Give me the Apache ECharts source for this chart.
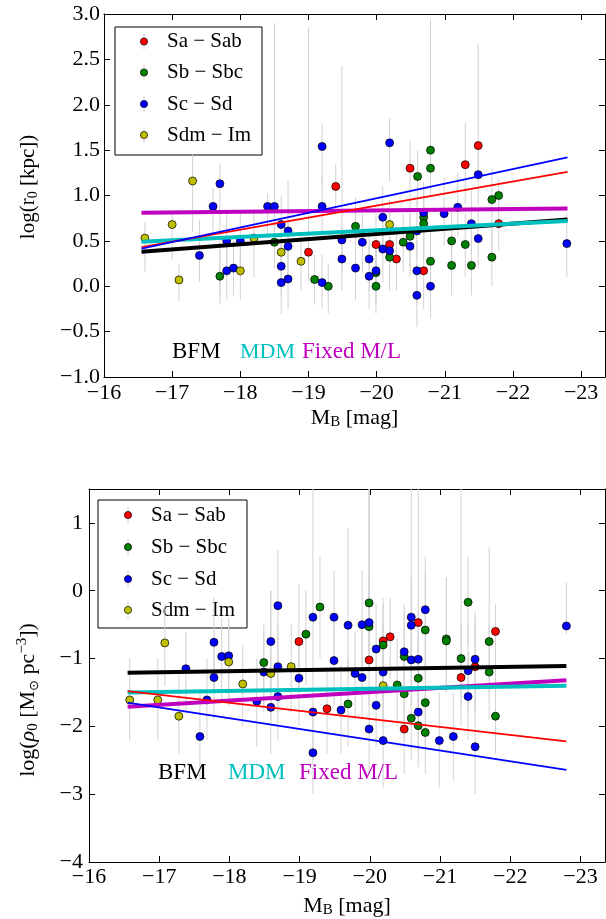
<!DOCTYPE html>
<html><head><meta charset="utf-8">
<script src="https://cdn.jsdelivr.net/npm/echarts@6/dist/echarts.min.js"></script>
<style>html,body{margin:0;padding:0;background:#fff}#c{width:606px;height:919px}</style>
</head><body><div id="c"></div>
<script>
// ---------- DATA ----------
const xTicks = [-16,-17,-18,-19,-20,-21,-22,-23];
const yTicksTop = [-1,-0.5,0,0.5,1,1.5,2,2.5,3];
const yTicksBot = [-4,-3,-2,-1,0,1];
const typeNames = ['Sa \u2212 Sab','Sb \u2212 Sbc','Sc \u2212 Sd','Sdm \u2212 Im'];
const typeColors = ['#ff0000','#008000','#0000ff','#bfbf00'];

// [M_B, value, errorbar low, errorbar high]
const r0_SaSab = [
[-19.40,1.10,0.85,1.35],[-20.49,1.30,0.95,1.60],[-21.30,1.34,0.90,1.80],[-21.49,1.55,1.20,2.67],
[-19.00,0.375,0.05,2.85],[-19.99,0.46,0.05,0.80],[-20.19,0.46,0.10,0.85],[-20.29,0.30,-0.05,0.65],
[-20.69,0.17,-0.25,0.55],[-21.79,0.69,0.40,1.00]];
const r0_SbSbc = [
[-20.79,1.50,1.10,2.94],[-20.79,1.30,1.00,1.60],[-20.60,1.21,0.90,1.50],[-21.69,0.955,0.40,1.30],
[-21.79,1.00,0.70,1.18],[-17.70,0.11,-0.20,0.40],[-18.50,0.485,0.20,0.80],[-19.09,0.074,-0.20,0.35],
[-19.29,0.00,-0.30,0.25],[-19.69,0.66,0.30,0.98],[-19.99,0.00,-0.30,0.30],[-19.99,0.15,-0.15,0.45],
[-20.19,0.32,-0.05,0.70],[-20.39,0.485,0.15,0.80],[-20.49,0.55,0.20,0.95],[-20.69,0.76,0.40,1.10],
[-20.69,0.69,0.30,1.00],[-20.79,0.275,-0.10,0.60],[-21.10,0.50,0.15,0.85],[-21.10,0.23,-0.10,0.55],
[-21.30,0.46,0.10,0.80],[-21.39,0.23,-0.10,0.55],[-21.69,0.32,0.00,0.70]];
const r0_ScSd = [
[-17.70,1.13,-0.10,1.35],[-19.20,1.54,1.11,1.80],[-20.19,1.58,1.15,1.85],[-21.49,1.23,0.90,1.60],
[-17.40,0.34,0.05,0.73],[-17.60,0.88,0.60,1.08],[-17.80,0.17,-0.15,0.45],[-17.80,0.50,0.20,0.80],
[-17.90,0.20,-0.10,0.50],[-18.00,0.50,0.20,0.80],[-18.40,0.88,0.55,1.02],[-18.50,0.88,0.55,2.90],
[-18.60,0.22,-0.10,0.50],[-18.60,0.04,-0.30,0.35],[-18.60,0.68,0.35,1.00],[-18.70,0.61,0.30,1.17],
[-18.70,0.44,0.10,0.75],[-18.70,0.08,-0.25,0.40],[-19.20,0.04,-0.25,0.35],[-19.20,0.88,0.55,1.20],
[-19.49,0.30,-0.05,0.65],[-19.49,0.51,0.15,2.43],[-19.69,0.20,-0.15,0.55],[-19.79,0.485,0.15,0.80],
[-19.89,0.30,-0.05,0.60],[-19.89,0.11,-0.25,0.45],[-19.99,0.17,-0.20,0.50],[-20.09,0.76,0.45,1.10],
[-20.09,0.41,0.05,0.75],[-20.19,0.39,0.05,0.70],[-20.49,0.44,0.10,0.80],[-20.59,0.61,0.30,0.95],
[-20.59,0.17,-0.20,0.50],[-20.59,-0.10,-0.45,0.25],[-20.69,0.81,0.50,1.15],[-20.79,0.00,-0.35,0.30],
[-20.99,0.80,0.45,1.20],[-21.19,0.87,0.55,1.25],[-21.39,0.69,0.35,1.05],[-21.49,0.525,0.20,0.85],
[-22.79,0.47,0.10,0.80]];
const r0_SdmIm = [
[-17.30,1.16,0.60,1.45],[-16.60,0.53,0.16,0.71],[-17.00,0.68,0.29,0.82],[-17.10,0.07,-0.17,0.25],
[-18.00,0.17,-0.15,0.40],[-18.20,0.53,0.10,0.85],[-18.60,0.375,0.00,0.70],[-18.89,0.275,-0.05,0.55],
[-20.19,0.68,0.40,0.95]];

const rho_SaSab = [
[-18.99,-0.75,-1.50,0.10],[-19.39,-1.74,-2.40,-1.20],[-19.99,-1.02,-1.70,1.50],[-20.19,-0.74,-1.40,-0.20],
[-20.29,-0.68,-1.30,-0.10],[-20.69,-0.47,-1.20,1.50],[-20.49,-2.04,-2.70,-1.40],[-21.30,-1.28,-2.00,-0.50],
[-21.50,-1.12,-1.80,-0.40],[-21.79,-0.60,-1.40,-0.20]];
const rho_SbSbc = [
[-18.49,-1.06,-1.70,-0.50],[-19.09,-0.64,-1.40,0.00],[-19.29,-0.24,-1.00,0.50],[-19.69,-1.67,-2.30,-1.00],
[-19.99,-0.53,-1.20,0.20],[-19.99,-0.18,-0.90,1.50],[-20.19,-0.80,-1.50,-0.10],[-20.49,-0.97,-1.60,-0.30],
[-20.79,-0.58,-1.30,0.30],[-20.69,-1.29,-2.00,-0.60],[-21.09,-0.71,-1.50,0.20],[-21.09,-0.74,-1.50,0.20],
[-21.30,-1.00,-1.70,1.50],[-21.40,-0.17,-0.80,0.50],[-21.70,-0.75,-1.50,0.64],[-21.70,-1.20,-1.90,-0.50],
[-20.39,-1.39,-2.00,-0.70],[-20.49,-1.52,-2.20,-0.90],[-20.59,-1.88,-2.50,-1.20],[-20.69,-1.99,-2.60,-1.30],
[-20.79,-1.65,-2.30,-1.00],[-20.79,-2.09,-2.70,-1.40],[-21.79,-1.85,-2.40,-1.30]];
const rho_ScSd = [
[-17.78,-0.76,-1.50,-0.10],[-17.89,-0.97,-1.60,-0.40],[-17.99,-0.96,-1.60,-0.40],[-17.38,-1.15,-1.80,-0.60],
[-17.78,-1.28,-1.90,-0.70],[-18.49,-1.20,-1.80,-0.60],[-18.59,-0.75,-1.40,0.00],[-18.69,-0.22,-0.90,0.60],
[-18.69,-1.12,-1.80,-0.50],[-18.99,-1.29,-2.00,-0.70],[-19.19,-0.39,-1.10,1.50],[-19.49,-0.39,-1.10,0.30],
[-19.49,-1.03,-1.70,-0.40],[-19.69,-0.51,-1.20,0.92],[-17.58,-2.15,-2.80,-1.50],[-17.68,-1.61,-2.20,-1.00],
[-18.39,-1.63,-2.30,-1.00],[-18.59,-1.72,-2.40,-1.10],[-18.69,-1.56,-2.20,-0.90],[-19.19,-1.79,-2.50,-1.10],
[-19.19,-2.39,-3.00,-1.80],[-19.59,-1.76,-2.40,-1.10],[-19.89,-0.50,-1.20,0.30],[-19.99,-0.47,-1.20,1.50],
[-20.09,-0.86,-1.50,-0.20],[-19.79,-1.22,-1.90,-0.60],[-19.89,-1.28,-1.90,-0.60],[-20.19,-1.20,-1.90,-0.50],
[-20.49,-0.90,-1.60,-0.20],[-20.59,-0.39,-1.10,1.50],[-20.59,-0.51,-1.20,0.20],[-20.59,-1.02,-1.70,-0.30],
[-20.69,-1.01,-1.70,-0.30],[-20.79,-0.28,-1.00,0.50],[-21.50,-1.01,-1.70,-0.30],[-21.40,-1.18,-1.80,-0.50],
[-22.80,-0.52,-0.65,0.13],[-20.09,-1.69,-2.30,-1.00],[-19.99,-2.04,-2.70,-1.40],[-20.19,-2.21,-2.90,-1.50],
[-20.69,-1.79,-2.40,-1.10],[-20.99,-2.21,-2.90,-1.50],[-21.19,-2.15,-2.80,-1.50],[-21.40,-1.56,-2.20,-0.90],
[-21.50,-2.30,-3.00,-1.60]];
const rho_SdmIm = [
[-17.08,-0.77,-1.40,-0.20],[-17.99,-1.05,-1.70,-0.50],[-18.59,-1.22,-1.90,0.00],[-18.88,-1.12,-1.80,-0.50],
[-16.58,-1.61,-2.20,-1.00],[-16.98,-1.61,-2.20,-1.00],[-17.28,-1.85,-2.40,-1.20],[-18.19,-1.375,-2.00,-0.80],
[-20.19,-1.40,-2.00,-0.80]];

// fit lines: value at fitX[0] and fitX[1]
const fitX = [-16.55,-22.8];
const r0_BFM = [0.38,0.735], r0_MDM = [0.49,0.72], r0_Fixed = [0.81,0.856];
const r0_fitSa = [0.43,1.26], r0_fitSc = [0.415,1.42];
const rho_BFM = [-1.21,-1.11], rho_MDM = [-1.50,-1.40], rho_Fixed = [-1.71,-1.32];
const rho_fitSa = [-1.48,-2.22], rho_fitSc = [-1.65,-2.64];

// ---------- CHART ----------
const FONT = 'Liberation Serif';
const minus = v => (v < 0 ? '\u2212' : '') + Math.abs(v);
const chart = echarts.init(document.getElementById('c'), null, {renderer:'canvas'});

function axesFor(gi, yMin, yMax, yTicks, yFmt, lblMarginX, lblMarginY, nameGap){
  const tick = {show:true, inside:true, length:6, lineStyle:{color:'#000', width:1}};
  const line = {show:true, onZero:false, lineStyle:{color:'#000', width:1}};
  const xs = [
    {type:'value', gridIndex:gi, min:-23.35, max:-16, inverse:true, position:'bottom',
     axisLine:line, splitLine:{show:false},
     axisTick:Object.assign({customValues:xTicks}, tick),
     axisLabel:{customValues:xTicks, formatter:minus, fontFamily:FONT, fontSize:22, color:'#000', margin:lblMarginX},
     name:'{a|M}{s|B}{a| [mag]}', nameLocation:'middle', nameGap:nameGap,
     nameTextStyle:{rich:{a:{fontFamily:FONT,fontSize:22,color:'#000',lineHeight:24},
                          s:{fontFamily:FONT,fontSize:15,color:'#000',lineHeight:14,verticalAlign:'bottom'}}}},
    {type:'value', gridIndex:gi, min:-23.35, max:-16, inverse:true, position:'top',
     axisLine:line, splitLine:{show:false}, axisLabel:{show:false},
     axisTick:Object.assign({customValues:xTicks}, tick)}
  ];
  const ys = [
    {type:'value', gridIndex:gi, min:yMin, max:yMax, position:'left',
     axisLine:line, splitLine:{show:false},
     axisTick:Object.assign({customValues:yTicks}, tick),
     axisLabel:{customValues:yTicks, formatter:yFmt, fontFamily:FONT, fontSize:22, color:'#000', margin:lblMarginY}},
    {type:'value', gridIndex:gi, min:yMin, max:yMax, position:'right',
     axisLine:line, splitLine:{show:false}, axisLabel:{show:false},
     axisTick:Object.assign({customValues:yTicks}, tick)}
  ];
  return {xs, ys};
}
const A0 = axesFor(0, -1, 3, yTicksTop, v => (v < 0 ? '\u2212' : '') + Math.abs(v).toFixed(1), 5, 4, 29);
const A1 = axesFor(1, -4, 1.5, yTicksBot, minus, 4, 6, 32);

function errRender(params, api){
  const x = api.value(0), lo = api.value(2), hi = api.value(3);
  const p1 = api.coord([x, lo]), p2 = api.coord([x, hi]);
  return {type:'line', shape:{x1:p1[0], y1:p1[1], x2:p2[0], y2:p2[1]},
          style:{stroke:'#d2d2d2', lineWidth:1}};
}
function panelSeries(xi, yi, groups, fits){
  const s = [];
  groups.forEach((g) => {
    s.push({type:'custom', xAxisIndex:xi, yAxisIndex:yi, data:g, renderItem:errRender, z:1,
            encode:{x:0, y:[1,2,3]}, silent:true});
  });
  groups.forEach((g, k) => {
    s.push({type:'scatter', xAxisIndex:xi, yAxisIndex:yi, data:g, encode:{x:0, y:1}, z:2,
            symbol:'circle', symbolSize:8,
            itemStyle:{color:typeColors[k], borderColor:'#000', borderWidth:0.7, opacity:1}, silent:true});
  });
  fits.forEach((f, k) => {
    s.push({type:'line', xAxisIndex:xi, yAxisIndex:yi, z:3 + k, symbol:'none', silent:true,
            data:[[fitX[0], f.v[0]], [fitX[1], f.v[1]]],
            lineStyle:{color:f.c, width:f.w, cap:'butt'}});
  });
  return s;
}
const fitStyles = (bfm, mdm, fix, sa, sc) => [
  {v:fix, c:'#bf00bf', w:4}, {v:bfm, c:'#000000', w:4}, {v:mdm, c:'#00bfbf', w:4},
  {v:sa, c:'#ff0000', w:1.8}, {v:sc, c:'#0000ff', w:1.8}];

const series = [].concat(
  panelSeries(0, 0, [r0_SaSab, r0_SbSbc, r0_ScSd, r0_SdmIm], fitStyles(r0_BFM, r0_MDM, r0_Fixed, r0_fitSa, r0_fitSc)),
  panelSeries(2, 2, [rho_SaSab, rho_SbSbc, rho_ScSd, rho_SdmIm], fitStyles(rho_BFM, rho_MDM, rho_Fixed, rho_fitSa, rho_fitSc))
);

function legendGraphic(x0, y0, w, h, mx, tx, ys){
  const children = [{type:'rect', shape:{x:x0, y:y0, width:w, height:h},
                     style:{fill:'#fff', stroke:'#000', lineWidth:1}}];
  ys.forEach((y, k) => {
    children.push({type:'line', shape:{x1:mx, y1:y-8, x2:mx, y2:y+8}, style:{stroke:'#d2d2d2', lineWidth:1}});
    children.push({type:'circle', shape:{cx:mx, cy:y, r:3.6}, style:{fill:typeColors[k], stroke:'#000', lineWidth:0.7}});
    children.push({type:'text', x:tx, y:y, style:{text:typeNames[k], fontFamily:FONT, fontSize:21,
                   fill:'#000', align:'left', verticalAlign:'middle'}});
  });
  return {type:'group', z:100, children};
}
function modelText(xs, y, sizes){
  const t = ['BFM','MDM','Fixed M/L'], c = ['#000000','#00bfbf','#bf00bf'];
  return t.map((s, k) => ({type:'text', z:100, x:xs[k], y:y,
    style:{text:s, fontFamily:FONT, fontSize:sizes[k], fill:c[k], align:'left', verticalAlign:'middle'}}));
}
const richY = {
  a:{fontFamily:FONT, fontSize:22, fill:'#000', lineHeight:26},
  i:{fontFamily:FONT, fontSize:22, fill:'#000', lineHeight:26, fontStyle:'italic'},
  s:{fontFamily:FONT, fontSize:15, fill:'#000', lineHeight:13, verticalAlign:'bottom'},
  o:{fontFamily:'DejaVu Sans', fontSize:13, fill:'#000', lineHeight:13, verticalAlign:'bottom'},
  p:{fontFamily:FONT, fontSize:15, fill:'#000', lineHeight:15, verticalAlign:'top'}
};
const richY2 = {
  a:{fontFamily:FONT, fontSize:21, fill:'#000', lineHeight:25},
  s:{fontFamily:FONT, fontSize:14, fill:'#000', lineHeight:13, verticalAlign:'bottom'}
};

chart.setOption({
  animation:false,
  backgroundColor:'#fff',
  grid:[{left:104, top:14, width:501, height:363},
        {left:89, top:489, width:516, height:373}],
  xAxis:[].concat(A0.xs, A1.xs.map(a => Object.assign({}, a, {gridIndex:1}))),
  yAxis:[].concat(A0.ys, A1.ys.map(a => Object.assign({}, a, {gridIndex:1}))),
  series:series,
  graphic:[
    legendGraphic(115, 27, 147, 128, 144, 167, [41.5, 72.5, 104, 135]),
    legendGraphic(98, 500, 149, 128, 128, 151, [515, 547, 579, 610])
  ].concat(modelText([172, 240, 302], 352, [23, 22, 23]), modelText([158, 228, 299], 773, [23, 23, 23]), [
    {type:'text', x:28, y:187, rotation:Math.PI/2,
     style:{text:'{a|log(r}{s|0}{a| [kpc])}', rich:richY2, align:'center', verticalAlign:'middle'}},
    {type:'text', x:28, y:700, rotation:Math.PI/2,
     style:{text:'{a|log(}{i|\u03c1}{s|0}{a| [M}{o|\u2299}{a| pc}{p|\u22123}{a|])}', rich:richY, align:'center', verticalAlign:'middle'}}
  ])
});
</script>
</body></html>
